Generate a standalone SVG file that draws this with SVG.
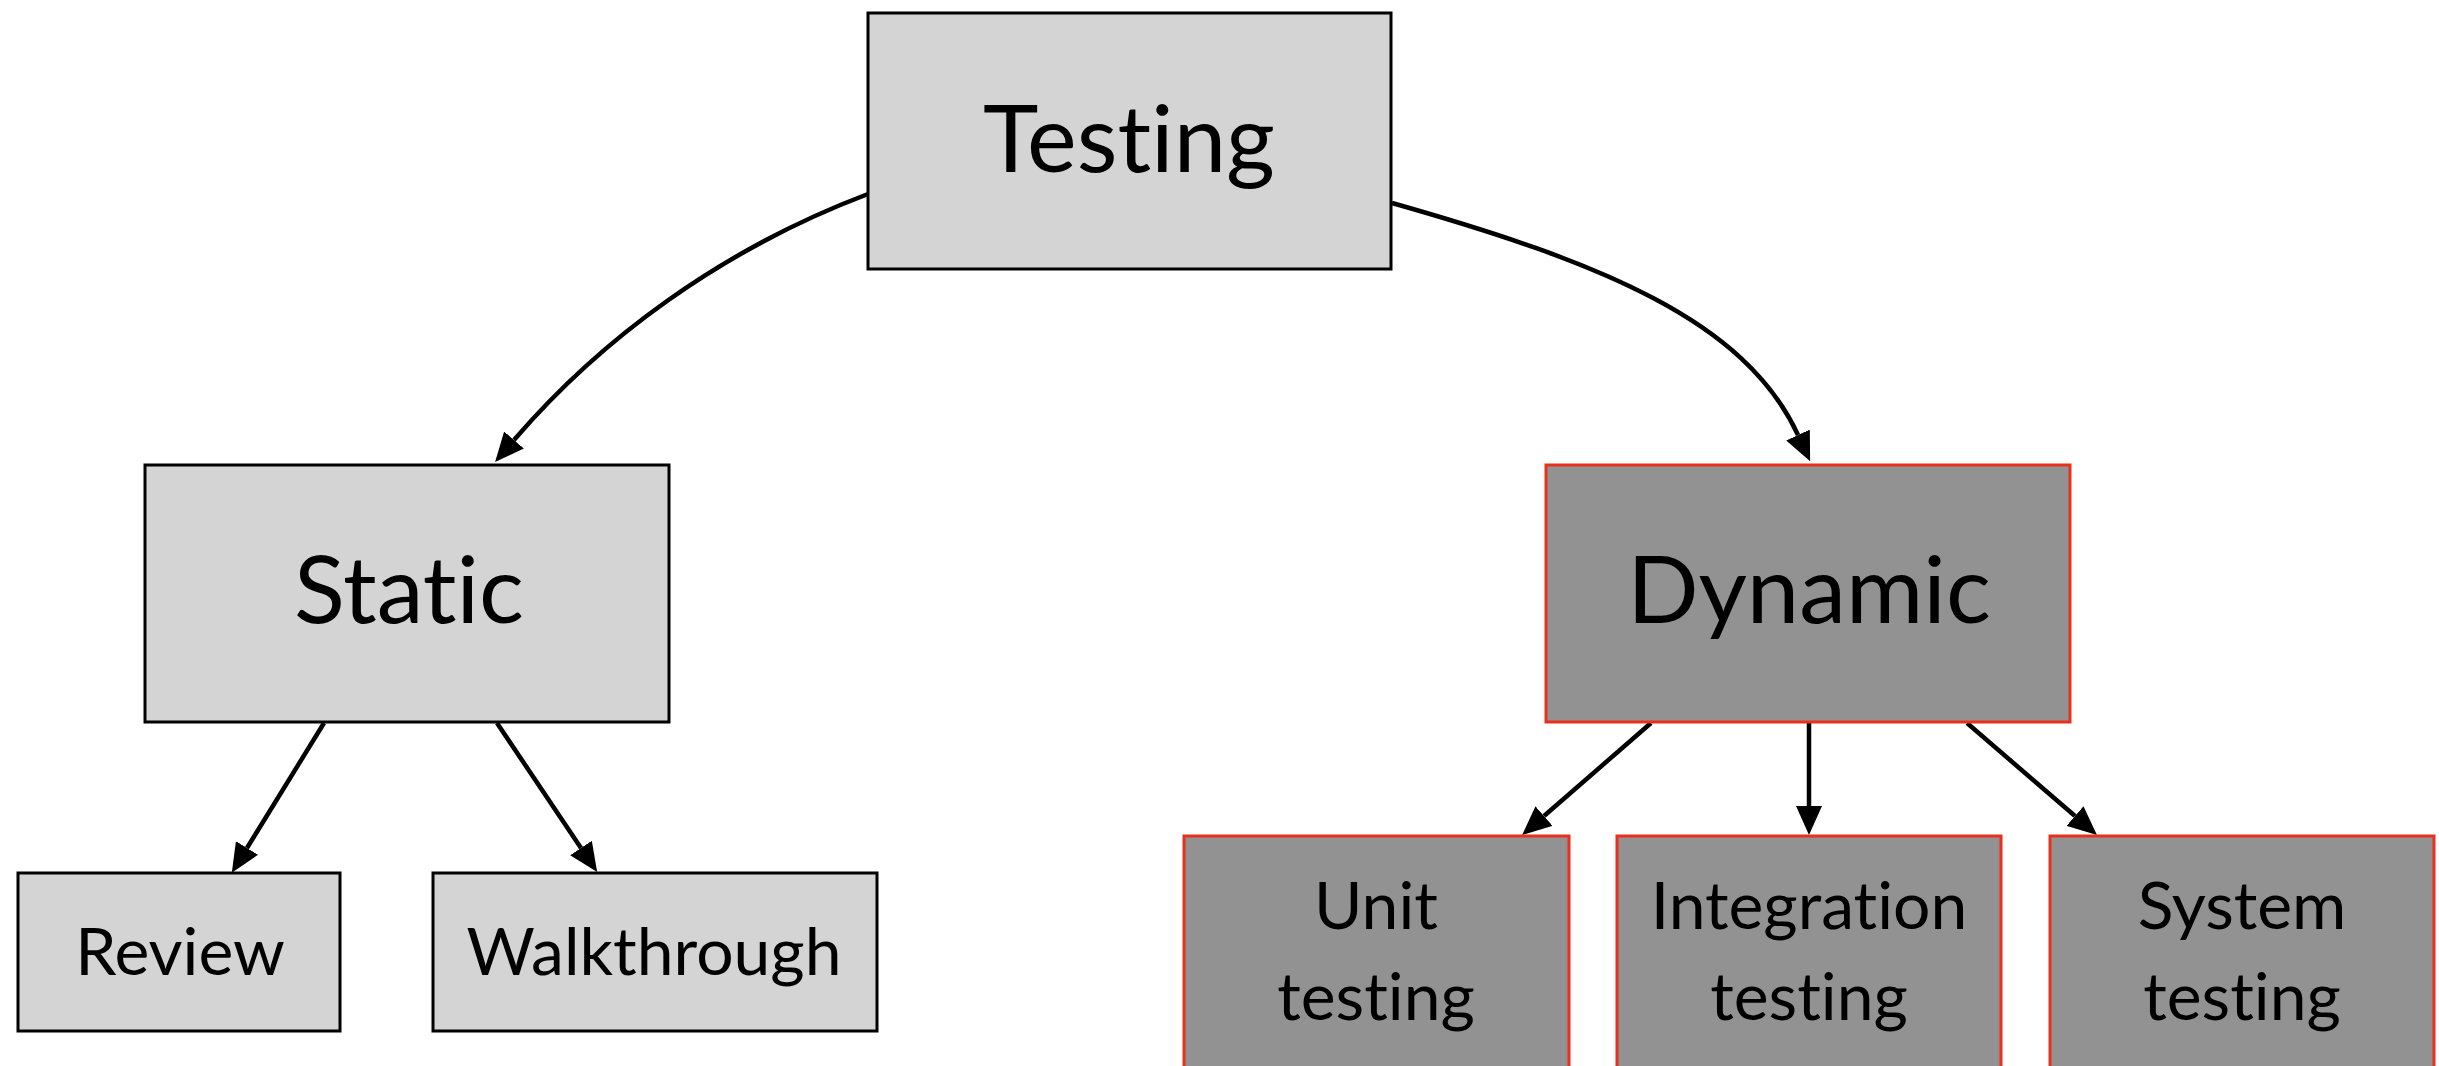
<svg xmlns="http://www.w3.org/2000/svg" width="2439" height="1066" viewBox="0 0 2439 1066">
  <style>
    .light { fill: #d4d4d4; stroke: #000000; stroke-width: 3; }
    .dark { fill: #929292; stroke: #e8301c; stroke-width: 3; }
    .label { font-family: "Lato", "Liberation Sans", sans-serif; font-weight: 400; font-variant-ligatures: none; fill: #000000; text-anchor: middle; }
    .big { font-size: 94px; }
    .small { font-size: 66px; }
    .edge { fill: none; stroke: #000000; stroke-width: 4.5; marker-end: url(#arrow); }
  </style>
  <defs>
    <marker id="arrow" viewBox="0 0 29 26" refX="0" refY="13" markerWidth="29" markerHeight="26" markerUnits="userSpaceOnUse" orient="auto">
      <path d="M0,0 L29,13 L0,26 z" fill="#000000"/>
    </marker>
  </defs>

  <rect width="2439" height="1066" fill="#ffffff"/>

  <g id="connectors">
    <path class="edge" d="M 868 194 C 720 250, 600 340, 514 440"/>
    <path class="edge" d="M 1392 203 C 1600 262, 1745 320, 1798 435"/>
    <path class="edge" d="M 324 723 L 247 848"/>
    <path class="edge" d="M 497 723 L 581 848"/>
    <path class="edge" d="M 1651 723 L 1544 816"/>
    <path class="edge" d="M 1809 723 L 1809 806"/>
    <path class="edge" d="M 1967 723 L 2075 816"/>
  </g>

  <g id="node-testing">
    <rect class="light" x="868" y="13" width="523" height="256"/>
    <text class="label big" x="1129" y="172">Testing</text>
  </g>

  <g id="node-static">
    <rect class="light" x="145" y="465" width="524" height="257"/>
    <text class="label big" x="409" y="623">Static</text>
  </g>

  <g id="node-dynamic">
    <rect class="dark" x="1546" y="465" width="524" height="257"/>
    <text class="label big" x="1809" y="623">Dynamic</text>
  </g>

  <g id="node-review">
    <rect class="light" x="18" y="873" width="322" height="158"/>
    <text class="label small" x="180" y="975">Review</text>
  </g>

  <g id="node-walkthrough">
    <rect class="light" x="433" y="873" width="444" height="158"/>
    <text class="label small" x="654" y="975">Walkthrough</text>
  </g>

  <g id="node-unit">
    <rect class="dark" x="1184" y="836" width="385" height="260"/>
    <text class="label small" x="1376" y="929">Unit</text>
    <text class="label small" x="1376" y="1020">testing</text>
  </g>

  <g id="node-integration">
    <rect class="dark" x="1617" y="836" width="384" height="260"/>
    <text class="label small" x="1809" y="929">Integration</text>
    <text class="label small" x="1809" y="1020">testing</text>
  </g>

  <g id="node-system">
    <rect class="dark" x="2050" y="836" width="384" height="260"/>
    <text class="label small" x="2242" y="929">System</text>
    <text class="label small" x="2242" y="1020">testing</text>
  </g>
</svg>
